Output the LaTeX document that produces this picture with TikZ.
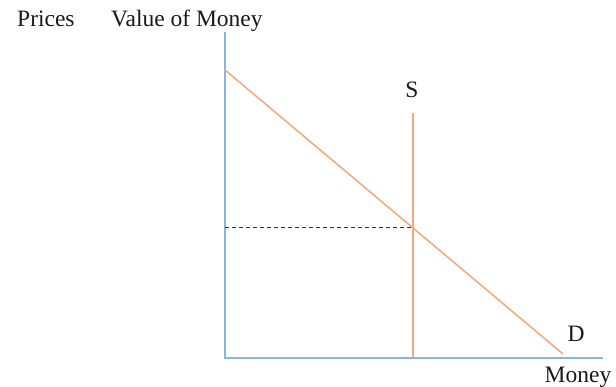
\documentclass[tikz,border=0pt]{standalone}
\usepackage{fontspec}
\setmainfont{Liberation Serif}
\usepackage{tikz}
\definecolor{cAxis}{HTML}{8DB3E2}
\definecolor{cCurve}{HTML}{F2A87A}
\definecolor{cInk}{HTML}{1A1A1A}
\definecolor{cDash}{HTML}{333333}
\tikzset{
  axis/.style={draw=cAxis,line width=1.6pt},
  curve/.style={draw=cCurve,line width=1.5pt},
  guide/.style={draw=cDash,line width=1pt,dash pattern=on 4pt off 3pt},
  lbl/.style={font=\fontsize{23.5}{26}\selectfont,text=cInk,anchor=base,inner sep=0pt},
}
\begin{document}
\begin{tikzpicture}[x=1pt,y=-1pt]
  \useasboundingbox (0,0) rectangle (616,387);
  % axes
  \coordinate (O) at (225,358);
  \coordinate (ytop) at (225,32);
  \coordinate (xend) at (603,358);
  \draw[axis] (ytop) -- (O) -- (xend);
  % demand and supply
  \coordinate (dtop) at (225,70);
  \coordinate (dend) at (563,354);
  \coordinate (stop) at (413,113);
  \coordinate (sbot) at (413,358);
  \draw[curve] (dtop) -- (dend);
  \draw[curve] (stop) -- (sbot);
  \coordinate (eq) at (413,227.5);
  \coordinate (eqy) at (225,227.5);
  \draw[guide] (eqy) -- (eq);
  % labels
  \node[lbl,anchor=base west] (prices) at (17,27) {Prices};
  \node[lbl,anchor=base west] (value) at (111,27) {Value of Money};
  \node[lbl] (S) at (412,98) {S};
  \node[lbl] (D) at (576,342) {D};
  \node[lbl] (money) at (578,382) {Money};
\end{tikzpicture}
\end{document}
